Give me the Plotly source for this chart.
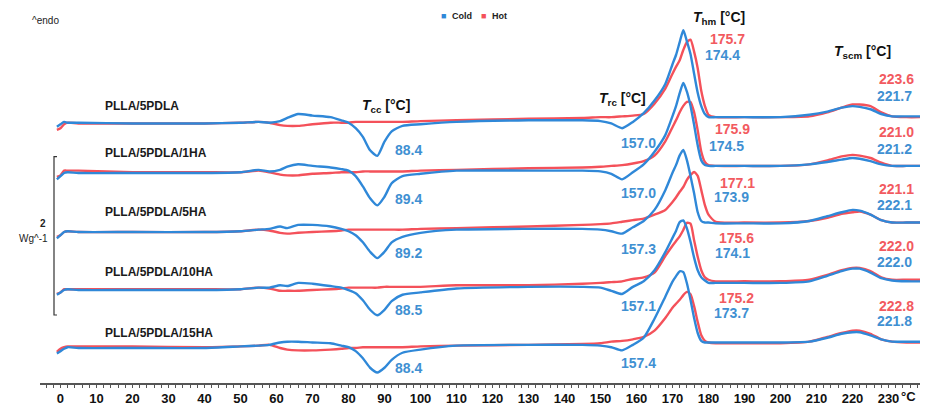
import plotly.graph_objects as go

# Temperature grid (°C)
T = [-1, 0, 1, 2, 5, 20, 40, 50, 55, 58, 61, 63, 66, 70, 75, 78, 80, 82, 84, 86, 88, 90, 92, 95, 100,
     110, 130, 145, 150, 153, 156, 159, 162, 165, 168, 170, 171, 172, 173, 174, 175, 176, 177, 178,
     179, 180, 182, 190, 200, 208, 213, 217, 220, 222, 225, 228, 231, 235, 239]

samples = ["PLLA/5PDLA", "PLLA/5PDLA/1HA", "PLLA/5PDLA/5HA", "PLLA/5PDLA/10HA", "PLLA/5PDLA/15HA"]

# Heat flow (W/g, endo up) relative to each curve's initial baseline
cold_5PDLA = [-0.04, -0.01, 0.02, 0.01, 0.01, 0.00, 0.00, 0.01, 0.02, 0.01, 0.03, 0.07, 0.12, 0.10, 0.08,
              0.04, 0.01, -0.06, -0.17, -0.34, -0.41, -0.23, -0.10, -0.03, -0.01, 0.02, 0.04, 0.04, 0.03,
              0.00, -0.06, 0.02, 0.13, 0.29, 0.50, 0.75, 0.87, 1.03, 1.18, 1.04, 0.88, 0.63, 0.39, 0.22,
              0.12, 0.08, 0.08, 0.08, 0.08, 0.11, 0.15, 0.20, 0.22, 0.21, 0.18, 0.12, 0.09, 0.09, 0.09]
hot_5PDLA = [-0.08, -0.06, -0.01, 0.01, 0.00, 0.00, 0.00, 0.01, 0.02, 0.01, -0.02, -0.03, -0.03, -0.01,
             0.01, 0.01, 0.01, 0.02, 0.02, 0.02, 0.02, 0.02, 0.02, 0.02, 0.03, 0.04, 0.06, 0.07, 0.08,
             0.08, 0.09, 0.10, 0.12, 0.25, 0.44, 0.63, 0.72, 0.80, 0.93, 1.03, 1.06, 0.91, 0.70, 0.41,
             0.22, 0.11, 0.08, 0.08, 0.08, 0.09, 0.14, 0.20, 0.24, 0.24, 0.22, 0.14, 0.09, 0.08, 0.08]

cold_1HA = [-0.08, -0.04, 0.00, 0.01, 0.00, 0.00, 0.00, 0.01, 0.04, 0.02, 0.04, 0.08, 0.11, 0.09, 0.07,
            0.05, 0.03, -0.04, -0.17, -0.32, -0.41, -0.30, -0.13, -0.04, -0.01, 0.03, 0.03, 0.03, 0.02,
            -0.01, -0.08, 0.01, 0.11, 0.27, 0.48, 0.72, 0.85, 1.01, 1.14, 1.03, 0.85, 0.61, 0.35, 0.16,
            0.10, 0.09, 0.09, 0.09, 0.09, 0.11, 0.14, 0.17, 0.19, 0.18, 0.15, 0.11, 0.09, 0.09, 0.09]
hot_1HA = [-0.05, -0.03, 0.03, 0.03, 0.03, 0.01, 0.01, 0.01, 0.03, 0.01, -0.02, -0.03, -0.03, -0.01,
           0.00, 0.01, 0.01, 0.01, 0.02, 0.02, 0.02, 0.02, 0.02, 0.02, 0.03, 0.04, 0.06, 0.07, 0.08,
           0.09, 0.10, 0.12, 0.15, 0.22, 0.40, 0.58, 0.67, 0.77, 0.85, 0.90, 0.90, 0.77, 0.54, 0.27,
           0.14, 0.10, 0.09, 0.09, 0.09, 0.11, 0.16, 0.21, 0.23, 0.22, 0.19, 0.13, 0.09, 0.09, 0.09]

cold_5HA = [-0.08, -0.04, 0.00, 0.01, 0.00, 0.00, 0.00, 0.01, 0.03, 0.04, 0.07, 0.05, 0.09, 0.09, 0.07,
            0.04, 0.01, -0.04, -0.13, -0.25, -0.33, -0.25, -0.13, -0.06, -0.01, 0.03, 0.04, 0.04, 0.03,
            0.01, -0.02, 0.06, 0.14, 0.28, 0.53, 0.75, 0.85, 0.97, 1.04, 0.91, 0.71, 0.49, 0.25, 0.14,
            0.12, 0.12, 0.11, 0.11, 0.11, 0.14, 0.20, 0.25, 0.28, 0.27, 0.22, 0.15, 0.12, 0.12, 0.12]
hot_5HA = [-0.06, -0.04, 0.00, 0.01, 0.00, 0.00, 0.00, 0.01, 0.03, 0.02, -0.01, -0.02, -0.01, 0.00,
           0.01, 0.02, 0.03, 0.03, 0.03, 0.03, 0.03, 0.03, 0.03, 0.03, 0.04, 0.05, 0.07, 0.09, 0.10,
           0.11, 0.13, 0.15, 0.17, 0.22, 0.28, 0.38, 0.44, 0.51, 0.57, 0.66, 0.72, 0.76, 0.71, 0.53,
           0.34, 0.22, 0.13, 0.12, 0.12, 0.14, 0.18, 0.23, 0.25, 0.26, 0.22, 0.15, 0.12, 0.12, 0.12]

cold_10HA = [-0.06, -0.03, 0.00, 0.01, 0.00, 0.00, 0.00, 0.01, 0.03, 0.03, 0.06, 0.05, 0.09, 0.08, 0.05,
             0.03, 0.00, -0.04, -0.13, -0.25, -0.32, -0.25, -0.14, -0.06, -0.03, 0.02, 0.04, 0.04, 0.03,
             -0.01, -0.05, 0.04, 0.11, 0.25, 0.48, 0.66, 0.75, 0.86, 0.88, 0.78, 0.61, 0.41, 0.25, 0.16,
             0.12, 0.09, 0.09, 0.09, 0.09, 0.11, 0.18, 0.24, 0.27, 0.27, 0.22, 0.15, 0.12, 0.11, 0.11]
hot_10HA = [-0.05, -0.03, 0.01, 0.01, 0.01, 0.01, 0.01, 0.01, 0.03, 0.02, -0.01, -0.01, -0.01, 0.00,
            0.01, 0.02, 0.03, 0.03, 0.03, 0.03, 0.03, 0.04, 0.04, 0.04, 0.04, 0.06, 0.06, 0.08, 0.09,
            0.10, 0.11, 0.14, 0.16, 0.22, 0.43, 0.56, 0.62, 0.68, 0.76, 0.85, 0.84, 0.63, 0.42, 0.25,
            0.16, 0.13, 0.11, 0.11, 0.11, 0.13, 0.19, 0.25, 0.28, 0.28, 0.24, 0.16, 0.13, 0.13, 0.13]

cold_15HA = [-0.07, -0.04, -0.01, 0.01, 0.00, 0.00, 0.00, 0.02, 0.03, 0.04, 0.07, 0.08, 0.08, 0.07, 0.06,
             0.03, 0.01, -0.04, -0.13, -0.25, -0.31, -0.25, -0.15, -0.06, -0.02, 0.03, 0.04, 0.04, 0.03,
             0.01, -0.03, 0.04, 0.13, 0.37, 0.65, 0.84, 0.91, 0.97, 0.96, 0.82, 0.61, 0.38, 0.19, 0.09,
             0.07, 0.07, 0.07, 0.07, 0.07, 0.08, 0.13, 0.18, 0.20, 0.20, 0.16, 0.11, 0.08, 0.08, 0.08]
hot_15HA = [-0.05, -0.01, 0.01, 0.02, 0.02, 0.02, 0.01, 0.02, 0.03, 0.04, 0.00, -0.02, -0.03, -0.03,
            -0.02, -0.01, 0.00, 0.00, 0.01, 0.01, 0.01, 0.01, 0.01, 0.01, 0.02, 0.03, 0.04, 0.05, 0.06,
            0.08, 0.09, 0.11, 0.14, 0.22, 0.38, 0.51, 0.56, 0.61, 0.67, 0.71, 0.68, 0.53, 0.33, 0.16,
            0.09, 0.07, 0.06, 0.06, 0.06, 0.08, 0.14, 0.19, 0.22, 0.22, 0.18, 0.11, 0.08, 0.07, 0.07]

cold_curves = [cold_5PDLA, cold_1HA, cold_5HA, cold_10HA, cold_15HA]
hot_curves = [hot_5PDLA, hot_1HA, hot_5HA, hot_10HA, hot_15HA]

# Peak temperature labels
Tcc_cold = ["88.4", "89.4", "89.2", "88.5", "88.4"]
Trc_cold = ["157.0", "157.0", "157.3", "157.1", "157.4"]
Thm_hot = ["175.7", "175.9", "177.1", "175.6", "175.2"]
Thm_cold = ["174.4", "174.5", "173.9", "174.1", "173.7"]
Tscm_hot = ["223.6", "221.0", "221.1", "222.0", "222.8"]
Tscm_cold = ["221.7", "221.2", "222.1", "222.0", "221.8"]

x_ticks = list(range(0, 231, 10))

# ---------------- layout / style ----------------
BLUE = "#2f88d8"
RED = "#f4515a"
BLUE_TXT = "#3f90d2"
RED_TXT = "#f25a60"
stack = [3.285, 2.658, 1.911, 1.177, 0.443]       # vertical stacking of curves (W/g)
sample_y = [3.50, 2.91, 2.17, 1.41, 0.63]
tcc_y = [2.95, 2.33, 1.64, 0.92, 0.19]
trc_y = [3.04, 2.41, 1.70, 0.97, 0.25]
hm_hot_y = [4.35, 3.22, 2.53, 1.84, 1.07]
hm_cold_y = [4.15, 3.00, 2.36, 1.64, 0.88]
hm_hot_x = [185.4, 186.7, 188.1, 187.8, 187.8]
hm_cold_x = [183.8, 185.1, 186.4, 186.7, 186.5]
scm_hot_y = [3.85, 3.18, 2.45, 1.73, 0.97]
scm_cold_y = [3.63, 2.96, 2.25, 1.53, 0.78]

fig = go.Figure()
for i in range(len(samples)):
    fig.add_trace(go.Scatter(x=T, y=[v + stack[i] for v in hot_curves[i]], mode="lines",
                             line=dict(color=RED, width=2.4, shape="spline", smoothing=0.6),
                             name="Hot", showlegend=False))
    fig.add_trace(go.Scatter(x=T, y=[v + stack[i] for v in cold_curves[i]], mode="lines",
                             line=dict(color=BLUE, width=2.4, shape="spline", smoothing=0.6),
                             name="Cold", showlegend=False))

ann = []


def add(text, x, y, color="#111", size=13, bold=True, xanchor="center", family="Liberation Sans",
        yref="y"):
    ann.append(dict(text=text, x=x, y=y, xref="x", yref=yref, showarrow=False, xanchor=xanchor,
                    yanchor="middle",
                    font=dict(family=family, size=size, color=color, weight="bold" if bold else "normal")))


for i in range(5):
    add(samples[i], 11.9, sample_y[i], color="#1a1a1a", size=12, xanchor="left")
    add(Tcc_cold[i], 96.6, tcc_y[i], color=BLUE_TXT, size=14)
    add(Trc_cold[i], 160.5, trc_y[i], color=BLUE_TXT, size=14)
    add(Thm_hot[i], hm_hot_x[i], hm_hot_y[i], color=RED_TXT, size=14)
    add(Thm_cold[i], hm_cold_x[i], hm_cold_y[i], color=BLUE_TXT, size=14)
    add(Tscm_hot[i], 232.2, scm_hot_y[i], color=RED_TXT, size=14)
    add(Tscm_cold[i], 231.8, scm_cold_y[i], color=BLUE_TXT, size=14)

add("<i>T</i><sub>cc</sub> [°C]", 90.5, 3.51, size=14)
add("<i>T</i><sub>rc</sub> [°C]", 156.0, 3.60, size=14)
add("<i>T</i><sub>hm</sub> [°C]", 182.8, 4.62, size=14)
add("<i>T</i><sub>scm</sub> [°C]", 222.8, 4.19, size=14)

add("^endo", -4.17, 4.59, size=10, bold=False, color="#222")
add("2", -4.8, 2.02, size=10, color="#222")
add("Wg^-1", -2.9, 1.83, size=10, bold=False, color="#222", xanchor="right")
add("°C", 233.0, -0.034, size=13, color="#111", xanchor="left", yref="paper")

# legend
add("■", 106.3, 4.64, color=BLUE, size=9, bold=False)
add("Cold", 108.2, 4.64, color="#222", size=9, xanchor="left")
add("■", 117.6, 4.64, color=RED, size=9, bold=False)
add("Hot", 119.3, 4.64, color="#222", size=9, xanchor="left")

fig.update_layout(
    width=926, height=405,
    margin=dict(l=40, r=6, t=0, b=22),
    paper_bgcolor="white", plot_bgcolor="white",
    showlegend=False,
    annotations=ann,
    shapes=[dict(type="path", xref="x", yref="y",
                 path="M -0.97,2.865 L -1.8,2.865 L -1.8,0.861 L -0.97,0.861",
                 line=dict(color="#333", width=1.2))],
    xaxis=dict(range=[-5.69, 238.75], tickmode="array", tickvals=x_ticks,
               ticktext=[str(v) for v in x_ticks],
               ticks="outside", ticklen=3, tickwidth=1, tickcolor="#555",
               showline=True, linecolor="#555", linewidth=1.5,
               showgrid=False, zeroline=False, automargin=False,
               tickfont=dict(family="Liberation Sans", size=13, color="#111", weight="bold"),
               minor=dict(dtick=2, tick0=0, ticks="outside", ticklen=3, tickcolor="#555",
                          showgrid=False)),
    yaxis=dict(range=[0, 4.848], visible=False, automargin=False),
)

fig.write_html("out.html", config={"displayModeBar": False},
               post_script="document.body.style.margin='0px';document.body.style.overflow='hidden';")
